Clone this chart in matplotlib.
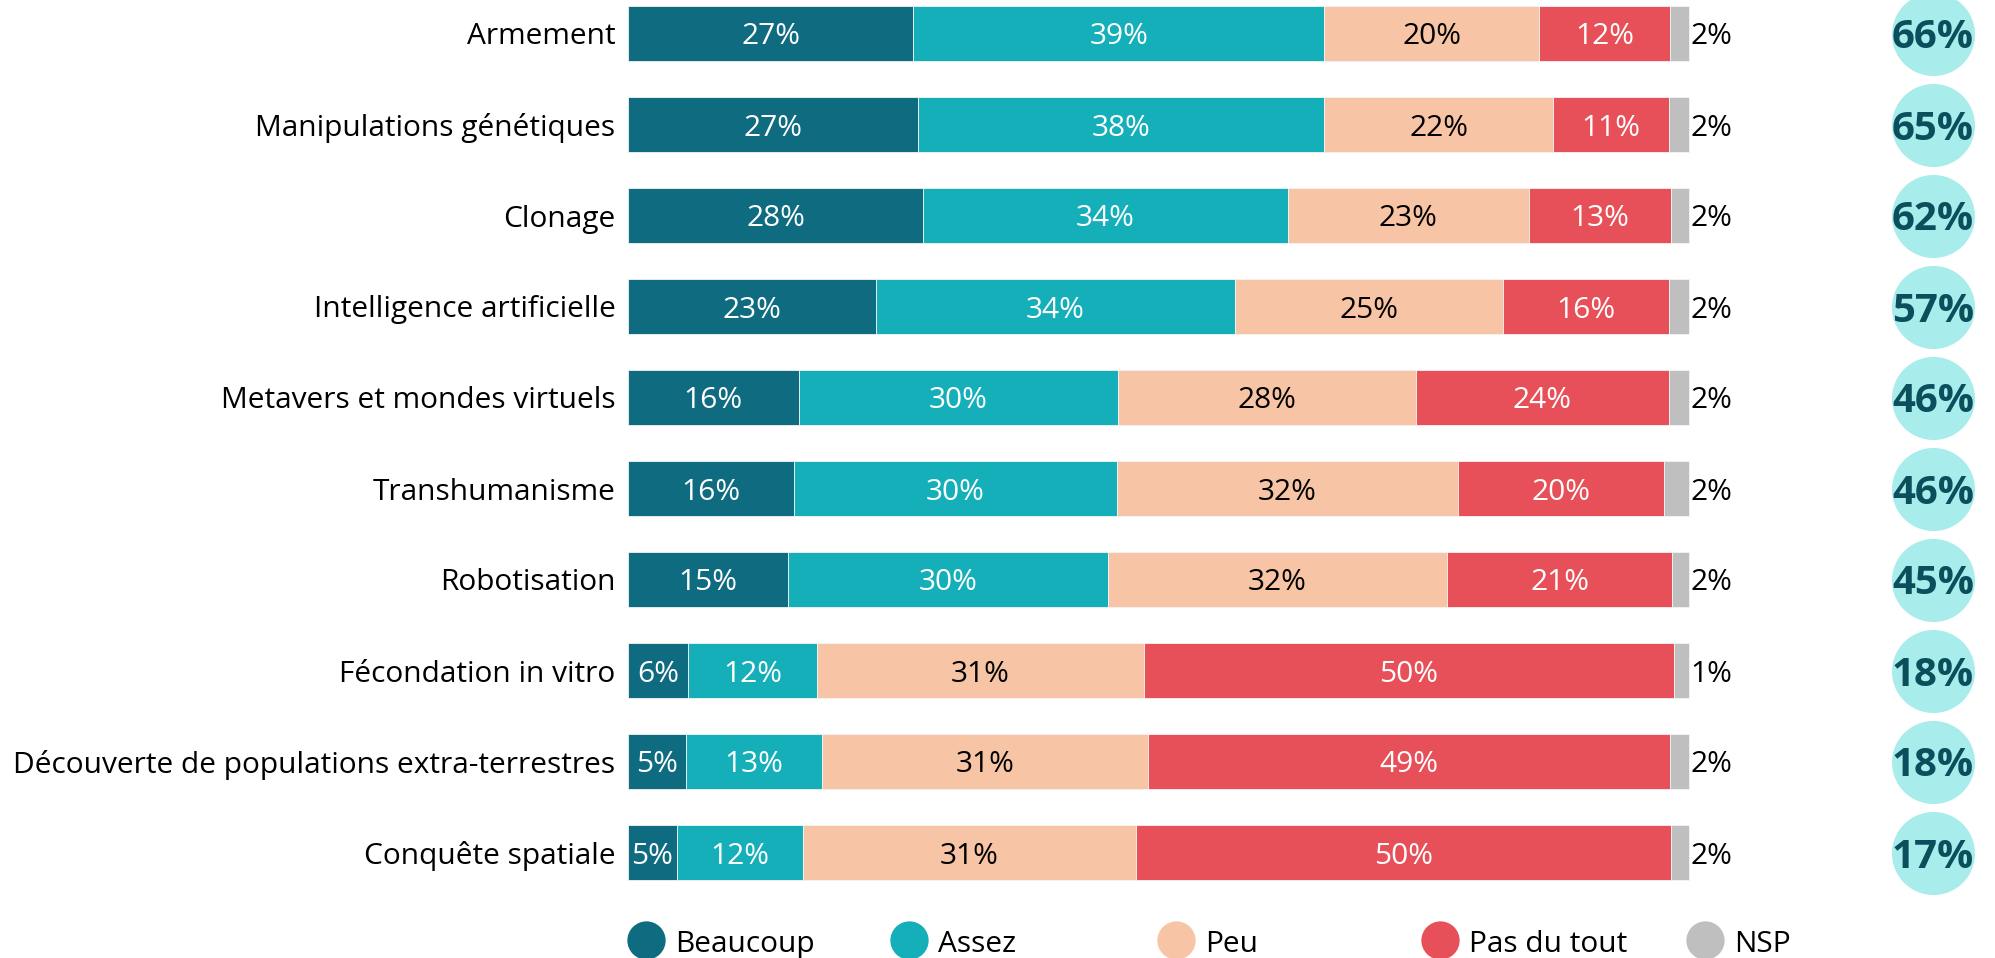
import matplotlib
matplotlib.use("Agg")
import matplotlib.pyplot as plt
import numpy as np

plt.rcParams['font.family'] = ['Open Sans', 'DejaVu Sans']

categories = ["Armement", "Manipulations génétiques", "Clonage", "Intelligence artificielle",
              "Metavers et mondes virtuels", "Transhumanisme", "Robotisation",
              "Fécondation in vitro", "Découverte de populations extra-terrestres",
              "Conquête spatiale"]
series_names = ["Beaucoup", "Assez", "Peu", "Pas du tout", "NSP"]
beaucoup = [26.9, 27.3, 27.8, 23.4, 16.1, 15.6, 15.1, 5.6, 5.5, 4.6]
assez = [38.7, 38.3, 34.4, 33.8, 30.1, 30.5, 30.1, 12.2, 12.8, 11.9]
peu = [20.3, 21.6, 22.7, 25.3, 28.1, 32.1, 32.0, 30.7, 30.7, 31.4]
pas_du_tout = [12.3, 10.9, 13.4, 15.6, 23.9, 19.4, 21.2, 49.9, 49.2, 50.5]
nsp = [1.8, 1.9, 1.7, 1.9, 1.9, 2.4, 1.6, 1.4, 1.8, 1.7]
labels_beaucoup = ["27%", "27%", "28%", "23%", "16%", "16%", "15%", "6%", "5%", "5%"]
labels_assez = ["39%", "38%", "34%", "34%", "30%", "30%", "30%", "12%", "13%", "12%"]
labels_peu = ["20%", "22%", "23%", "25%", "28%", "32%", "32%", "31%", "31%", "31%"]
labels_pas = ["12%", "11%", "13%", "16%", "24%", "20%", "21%", "50%", "49%", "50%"]
labels_nsp = ["2%", "2%", "2%", "2%", "2%", "2%", "2%", "1%", "2%", "2%"]
total_labels = ["66%", "65%", "62%", "57%", "46%", "46%", "45%", "18%", "18%", "17%"]

colors = ["#0F6B80", "#14AFB8", "#F7C4A5", "#E75058", "#BFBFBF"]
text_colors = ["white", "white", "black", "white", "black"]

FS = 21.5
W, H = 1995, 958
fig = plt.figure(figsize=(W / 100, H / 100), dpi=100)

x0_px, x100_px = 628, 1689
row0_px, pitch_px = 33.5, 91
top_px = row0_px - pitch_px / 2
bot_px = row0_px + 9 * pitch_px + pitch_px / 2
ax = fig.add_axes([x0_px / W, (H - bot_px) / H, (W - x0_px) / W, (bot_px - top_px) / H])
xmax = 100 * (W - x0_px) / (x100_px - x0_px)
ax.set_xlim(0, xmax)
ax.set_ylim(len(categories) - 0.5, -0.5)

data = np.array([beaucoup, assez, peu, pas_du_tout, nsp])
data = data / data.sum(axis=0) * 100
all_labels = [labels_beaucoup, labels_assez, labels_peu, labels_pas, labels_nsp]
y = np.arange(len(categories))
left = np.zeros(len(categories))
for k in range(5):
    ax.barh(y, data[k], left=left, height=0.604, color=colors[k],
            edgecolor="#F4F4F4", linewidth=0.6, label=series_names[k])
    for i in range(len(categories)):
        if k < 4:
            ax.text(left[i] + data[k][i] / 2, y[i], all_labels[k][i], ha="center",
                    va="center_baseline", color=text_colors[k], fontsize=FS)
        else:
            ax.text(left[i] + data[k][i] + 0.1, y[i], all_labels[k][i], ha="left",
                    va="center_baseline", color="black", fontsize=FS)
    left = left + data[k]

circle_x = 100 * (1933 - x0_px) / (x100_px - x0_px)
ax.scatter([circle_x] * len(categories), y, s=3575, color="#A8ECEC", clip_on=False, zorder=3,
           linewidths=0)
for i in range(len(categories)):
    ax.text(circle_x, y[i], total_labels[i], ha="center", va="center_baseline", fontsize=29,
            fontweight="bold", color="#0B4F5C", zorder=4)

ax.set_yticks(y)
ax.set_yticklabels(categories, fontsize=FS, va="center_baseline")
ax.tick_params(axis="y", length=0, pad=9)
ax.set_xticks([])
for s in ax.spines.values():
    s.set_visible(False)

lax = fig.add_axes([0, 0, 1, 60 / H])
lax.set_xlim(0, W)
lax.set_ylim(H - 60, H)
lax.invert_yaxis()
lax.axis("off")
leg_x = [646, 909, 1176, 1440, 1705]
for k in range(5):
    lax.scatter([leg_x[k]], [940], s=760, color=colors[k], clip_on=True, linewidths=0)
    lax.text(leg_x[k] + 29, 941, series_names[k], ha="left", va="center_baseline", fontsize=FS,
             color="black")

fig.savefig("out.png", dpi=100)
